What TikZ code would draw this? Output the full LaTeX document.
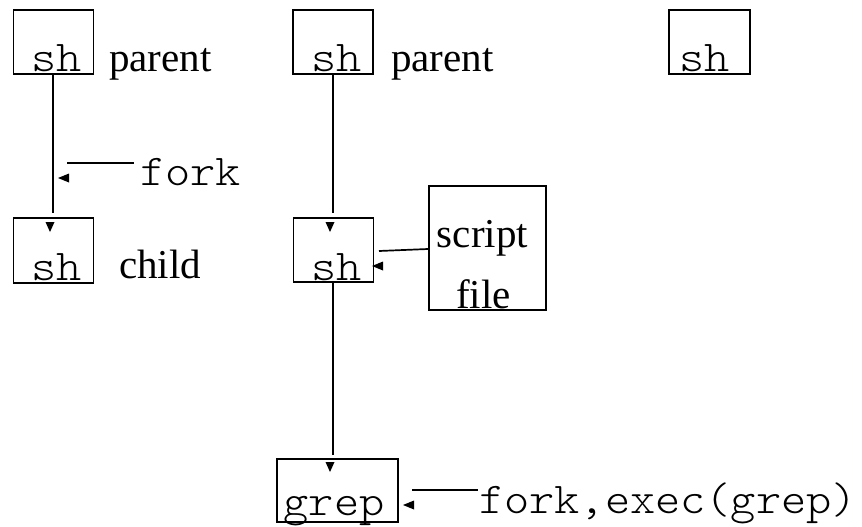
\documentclass[tikz,border=0pt]{standalone}
\usepackage{fontspec}
\setmainfont{Liberation Serif}
\newfontfamily\monofont[FakeStretch=1.09]{lmmonolt10-regular.otf}
\begin{document}
\begin{tikzpicture}[x=1pt,y=-1pt,
  box/.style={draw, line width=1.7pt, inner sep=0pt, minimum width=#1},
  box/.default=80pt,
  mono/.style={inner sep=0pt, font=\monofont\fontsize{44}{44}\selectfont},
  serif/.style={inner sep=0pt, font=\fontsize{41}{41}\selectfont},
  conn/.style={line width=1.7pt},
  tipdown/.pic={\fill (0,0) -- (-4.5,-10) -- (4.5,-10) -- cycle;},
  tipleft/.pic={\fill (0,0) -- (11,-4.5) -- (11,4.5) -- cycle;}]
\useasboundingbox (0,0) rectangle (862,527);

% left column: parent shell forks a child shell
\node[box, minimum height=64pt] (p1) at (53.5,42) {};
\node[mono, anchor=base] (p1t) at (56.5,72) {sh};
\node[serif, anchor=base west] (p1l) at (109,71) {parent};
\node[box, minimum height=65pt] (c1) at (53.5,250.5) {};
\node[mono, anchor=base] (c1t) at (56.5,280) {sh};
\node[serif, anchor=base west] (c1l) at (119,278) {child};
\coordinate (c1in) at (53,213);
\draw[conn] (p1.south -| c1in) -- (c1in);
\pic at (50,232) {tipdown};
\node[mono, anchor=base] (f1) at (190.5,185) {fork};
\coordinate (f1a) at (67,163);
\draw[conn] (f1a) -- (134,163);
\pic at (58,178) {tipleft};

% middle column: shell reading a script, then running grep
\node[box, minimum height=64pt] (p2) at (333,42) {};
\node[mono, anchor=base] (p2t) at (336.5,72) {sh};
\node[serif, anchor=base west] (p2l) at (391,71) {parent};
\node[box, minimum height=64pt] (c2) at (333.5,250) {};
\node[mono, anchor=base] (c2t) at (336.5,280) {sh};
\coordinate (c2in) at (333,213);
\draw[conn] (p2.south -| c2in) -- (c2in);
\pic at (330,232) {tipdown};
\node[box, minimum width=117pt, minimum height=124pt] (sf) at (487.5,248) {};
\node[serif, anchor=base] (sft1) at (482.5,247) {script};
\node[serif, anchor=base] (sft2) at (483.5,308) {file};
\coordinate (sfa) at (379,251);
\draw[conn] (sf.west |- 0,249) -- (sfa);
\pic at (372,266) {tipleft};
\node[box, minimum width=121pt, minimum height=63pt] (g) at (337.5,490.5) {};
\node[mono, anchor=base] (gt) at (334,515) {grep};
\coordinate (gin) at (333,455);
\draw[conn] (c2.south -| gin) -- (gin);
\pic at (330,472) {tipdown};
\node[mono, anchor=base west] (fe) at (479,513) {fork,exec(grep)};
\coordinate (fea) at (412,490);
\draw[conn] (fea) -- (478,490);
\pic at (403,505) {tipleft};

% right column: a lone shell
\node[box, minimum width=81pt, minimum height=64pt] (p3) at (709.5,42) {};
\node[mono, anchor=base] (p3t) at (704.5,72) {sh};
\end{tikzpicture}
\end{document}
